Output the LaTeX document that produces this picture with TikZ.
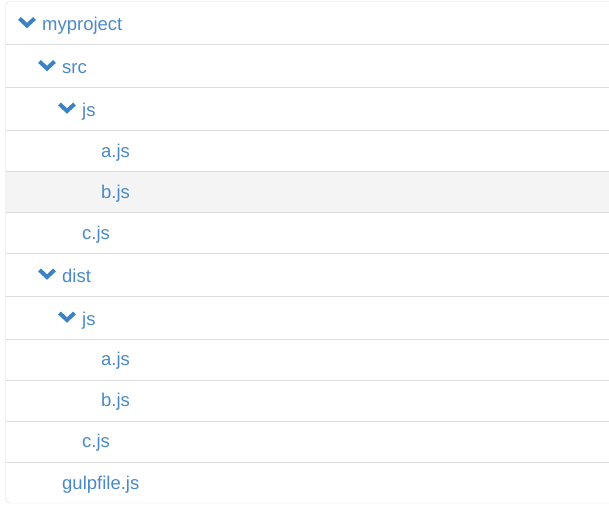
\documentclass[tikz,border=0pt]{standalone}
\usepackage{fontspec}
\setmainfont{Liberation Sans}
\definecolor{linkblue}{HTML}{4A89C8}
\definecolor{iconblue}{HTML}{3B82C4}
\definecolor{rowline}{HTML}{DDDDDD}
\definecolor{rowhover}{HTML}{F4F4F4}
\tikzset{
  item/.style={anchor=base west, inner sep=0pt, text=linkblue,
    font=\fontsize{18.5}{20}\selectfont},
  chevron/.style={iconblue, line width=4pt, miter limit=4},
}
\newcommand{\fold}[1]{%
  \draw[chevron] ([xshift=-22.5pt,yshift=12pt]#1.base west) -- ++(7.5,7) -- ++(7.5,-7);}
\begin{document}
\begin{tikzpicture}[x=1pt,y=-1pt]
  \useasboundingbox (0,0) rectangle (609,509);
  % selected row
  \fill[rowhover] (5.5,171) rectangle (609,212);
  % frame and row lines
  \draw[rowline] (609,1.5) -- (9.5,1.5) arc (270:180:4) -- (5.5,499) arc (180:90:4) -- (609,503);
  \foreach \y in {44,87,130,171,212,253,296,339,380,421,462}
    \draw[rowline] (5.5,\y) -- (609,\y);
  % tree
  \node[item] (root) at (42,30.5) {myproject};
  \node[item] (src) at (62,73.5) {src};
  \node[item] (srcjs) at (82,116) {js};
  \node[item] (srca) at (101,157) {a.js};
  \node[item] (srcb) at (101,198) {b.js};
  \node[item] (srcc) at (82,239) {c.js};
  \node[item] (dist) at (62,282) {dist};
  \node[item] (distjs) at (82,325) {js};
  \node[item] (dista) at (101,365) {a.js};
  \node[item] (distb) at (101,406) {b.js};
  \node[item] (distc) at (82,447) {c.js};
  \node[item] (gulp) at (62,489) {gulpfile.js};
  \foreach \n in {root,src,srcjs,dist,distjs}
    {\fold{\n}}
\end{tikzpicture}
\end{document}
